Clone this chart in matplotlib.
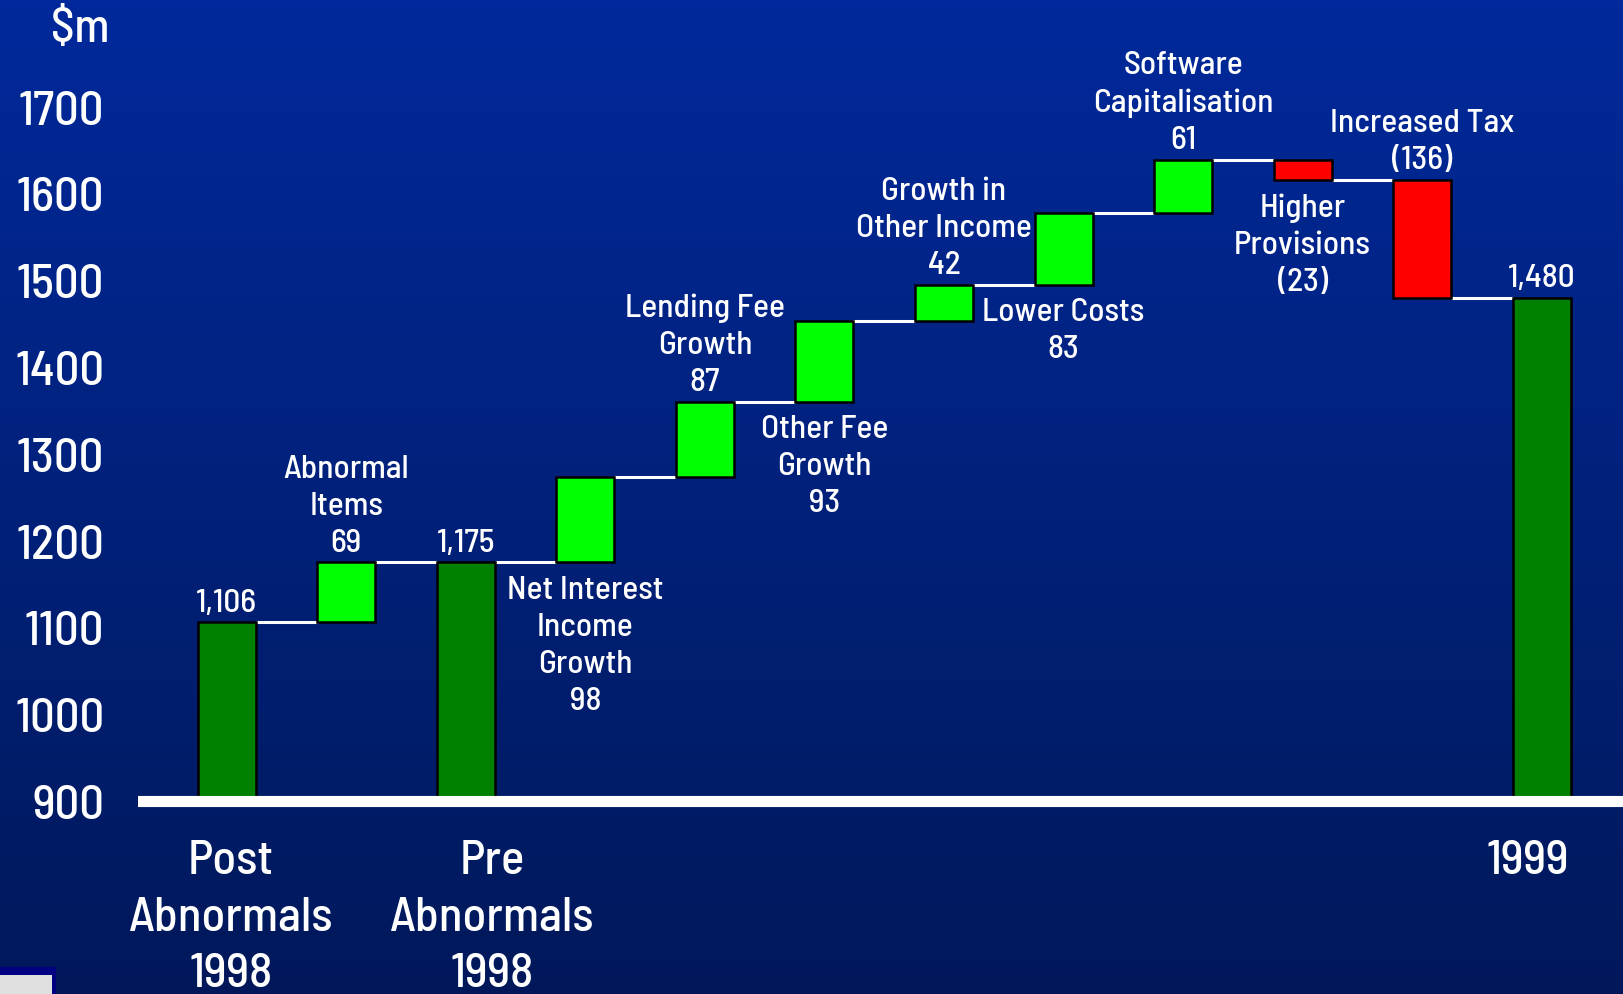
import numpy as np
import matplotlib
matplotlib.use("Agg")
import matplotlib.pyplot as plt
import matplotlib.transforms as mtransforms
from matplotlib import font_manager
from matplotlib.patches import Rectangle

# pick a condensed font if we have one
names = {f.name for f in font_manager.fontManager.ttflist}
FONT = next((n for n in ['Barlow Semi Condensed', 'PT Sans Narrow', 'Asap Condensed']
             if n in names), 'DejaVu Sans')
plt.rcParams['font.family'] = [FONT, 'DejaVu Sans']
plt.rcParams['font.weight'] = 'medium'

# data ($m)
bar_kind = ['total', 'delta', 'total', 'delta', 'delta', 'delta', 'delta',
            'delta', 'delta', 'delta', 'delta', 'total']
bar_values = [1106, 69, 1175, 98, 87, 93, 42, 83, 61, -23, -136, 1480]
bar_labels = ["1,106", "Abnormal\nItems\n69", "1,175",
              "Net Interest\nIncome\nGrowth\n98", "Lending Fee\nGrowth\n87",
              "Other Fee\nGrowth\n93", "Growth in\nOther Income\n42",
              "Lower Costs\n83", "Software\nCapitalisation\n61",
              "Higher\nProvisions\n(23)", "Increased Tax\n(136)", "1,480"]
label_side = ['above', 'above', 'above', 'below', 'above', 'below', 'above',
              'below', 'above', 'below', 'above', 'above']
category_pos = [0, 2, 11]
category_labels = ["Post\nAbnormals\n1998", "Pre\nAbnormals\n1998", "1999"]
yticks = [900, 1000, 1100, 1200, 1300, 1400, 1500, 1600, 1700]

Y0 = 900
W = 0.485

fig = plt.figure(figsize=(16.23, 9.95), dpi=100)

# blue gradient background
bg = fig.add_axes([0, 0, 1, 1], zorder=0)
top = np.array([0, 41, 155]) / 255
bot = np.array([0, 24, 90]) / 255
t = np.linspace(0, 1, 256)[:, None]
grad = top[None, :] * (1 - t) + bot[None, :] * t
bg.imshow(grad[:, None, :], aspect='auto', extent=[0, 1, 0, 1])
bg.axis('off')

ax = fig.add_axes([137.7 / 1623, 0.1809, 1 - 137.7 / 1623, 0.8191], zorder=1)
ax.patch.set_alpha(0)
ax.set_xlim(-0.745, 11.68)
ax.set_ylim(885, 1824)

# work out bar extents
level = 0
bottoms, heights, colors, levels = [], [], [], []
for kind, v in zip(bar_kind, bar_values):
    if kind == 'total':
        bottoms.append(Y0)
        heights.append(v - Y0)
        colors.append('#008000')
        level = v
    else:
        bottoms.append(min(level, level + v))
        heights.append(abs(v))
        colors.append('#00FF00' if v > 0 else '#FF0000')
        level += v
    levels.append(level)

x = np.arange(len(bar_values))
ax.bar(x, heights, bottom=bottoms, width=W, color=colors,
       edgecolor='black', linewidth=1.8, zorder=3)

# connectors
for i in range(len(x) - 1):
    ax.hlines(levels[i], x[i] + W / 2, x[i + 1] - W / 2, color='white',
              linewidth=2.2, zorder=2)

# baseline
ax.axhline(Y0, color='white', linewidth=8, zorder=4)

# value labels
for i, (txt, side) in enumerate(zip(bar_labels, label_side)):
    b, h = bottoms[i], heights[i]
    if side == 'above':
        ax.annotate(txt, (x[i], b + h), xytext=(0, 4), textcoords='offset points',
                    ha='center', va='bottom', color='white', fontsize=24,
                    linespacing=1.35)
    else:
        ax.annotate(txt, (x[i], b), xytext=(0, -9), textcoords='offset points',
                    ha='center', va='top', color='white', fontsize=24,
                    linespacing=1.35)

# axis cosmetics
for s in ax.spines.values():
    s.set_visible(False)
ax.set_yticks(yticks)
ax.set_yticklabels([str(v) for v in yticks])
ax.tick_params(axis='y', length=0, pad=24, labelsize=35, labelcolor='white')
ax.set_xticks(category_pos)
ax.set_xticklabels(category_labels)
ax.tick_params(axis='x', length=0, pad=18, labelsize=35, labelcolor='white')
# category labels sit a bit off the bar centres on the slide
for lab, dx in zip(ax.get_xticklabels(), [3, 19, -10]):
    lab.set_linespacing(1.4)
    lab.set_transform(lab.get_transform() +
                      mtransforms.ScaledTranslation(dx / 72, 0, fig.dpi_scale_trans))

fig.text(80 / 1623, 1 - 29 / 995, "$m", color='white', fontsize=34,
         ha='center', va='center')

# little grey box in the corner from the slide
fig.patches.append(Rectangle((0, 0), 56 / 1623, 27 / 995, transform=fig.transFigure,
                             facecolor='#000080', edgecolor='none', zorder=5))
fig.patches.append(Rectangle((0, 0), 52 / 1623, 19 / 995, transform=fig.transFigure,
                             facecolor='#E0E0E0', edgecolor='none', zorder=6))

fig.savefig('out.png', dpi=100)
